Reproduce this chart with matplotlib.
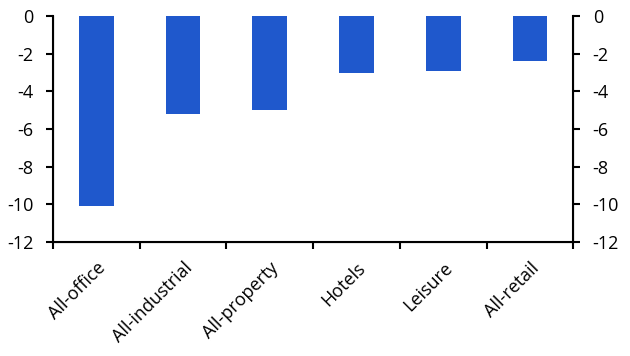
import numpy as np
import matplotlib.pyplot as plt

# Datos
categorias = ['All-office', 'All-industrial', 'All-property', 'Hotels', 'Leisure', 'All-retail']
valores = [-10.1, -5.2, -5.0, -3.0, -2.9, -2.4]

plt.rcParams['font.family'] = ['Open Sans', 'DejaVu Sans']
plt.rcParams['axes.unicode_minus'] = False

fig = plt.figure(figsize=(6.3, 3.56), dpi=100)
ax = fig.add_axes([0.084, 0.320, 0.826, 0.635])

x = np.arange(len(categorias))
ax.bar(x, valores, width=0.4, color='#1f58cc', zorder=2)

ax.set_xlim(-0.5, len(categorias) - 0.5)
ax.set_ylim(-12, 0)
ax.set_yticks(np.arange(-12, 1, 2))

# ticks en los limites de cada categoria
ax.set_xticks(np.arange(-0.5, len(categorias), 1))
ax.set_xticklabels([])
ax.set_xticks(x, minor=True)
ax.set_xticklabels(categorias, minor=True, rotation=45, ha='right', va='top',
                   rotation_mode='anchor', fontsize=13)
ax.tick_params(axis='x', which='minor', length=0, pad=12)
ax.tick_params(axis='x', which='major', length=5, width=1.5, direction='out')

ax.spines['top'].set_visible(False)
for s in ['left', 'right', 'bottom']:
    ax.spines[s].set_linewidth(1.5)

ax2 = ax.twinx()
ax2.set_ylim(-12, 0)
ax2.set_yticks(np.arange(-12, 1, 2))
ax2.spines['top'].set_visible(False)
for a in (ax, ax2):
    a.tick_params(axis='y', length=5, width=1.5, labelsize=13, pad=9)

fig.savefig('out.png', dpi=100)
